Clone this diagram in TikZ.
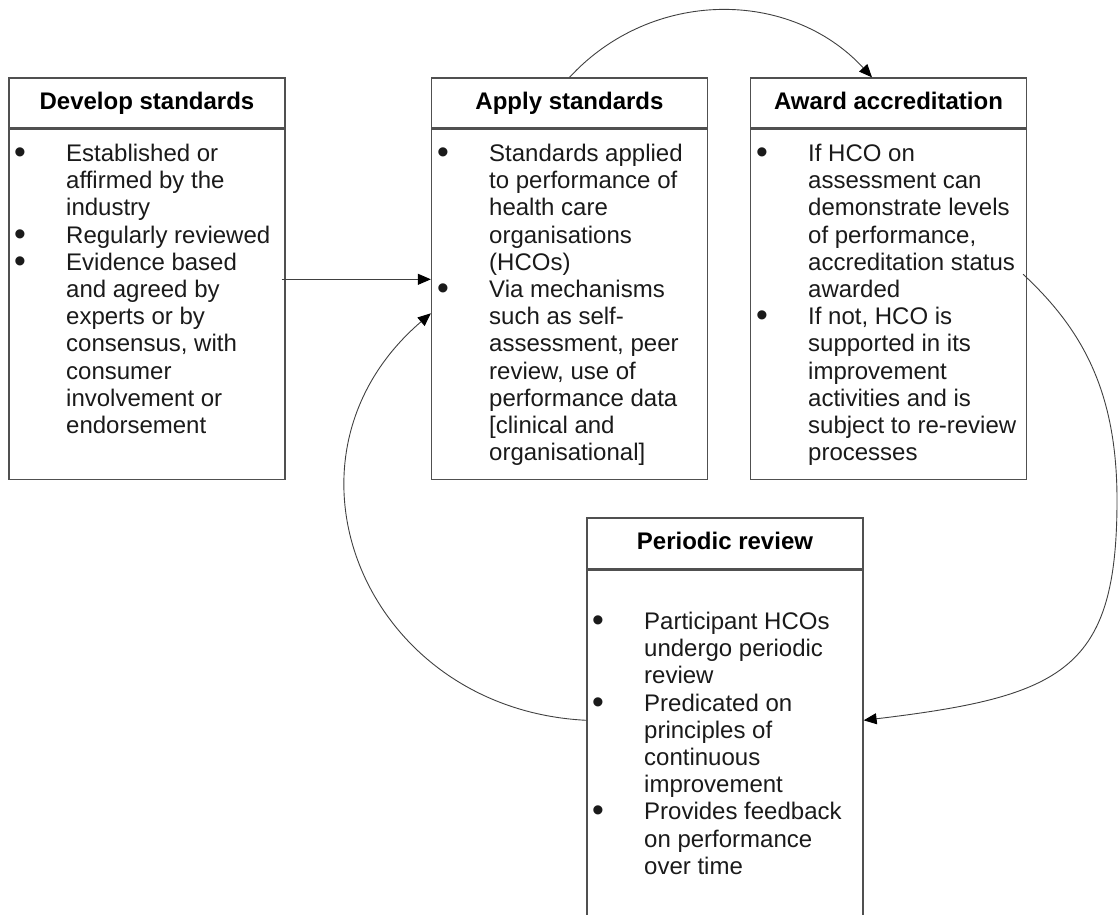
\documentclass[tikz,border=0pt]{standalone}
\usepackage{fontspec}
\usepackage{graphicx}
\setmainfont{Liberation Sans}
\usetikzlibrary{arrows.meta}
\definecolor{boxc}{HTML}{505050}
\definecolor{linec}{HTML}{404040}
\definecolor{txtc}{HTML}{1A1A1A}
\newcommand\bodyfont{\fontsize{24}{27.2}\selectfont}
\newcommand\ttlfont{\fontsize{24}{27.2}\selectfont\bfseries}
\newcommand\bu{\makebox[54pt][l]{\hspace{2pt}\raisebox{-2pt}{\scalebox{1.4}{•}}}}
\begin{document}
\begin{tikzpicture}[x=1pt,y=-1pt,
  box/.style={draw=boxc, line width=1.3pt, inner sep=0pt, minimum width=276pt},
  ttl/.style={box, minimum height=50pt, font=\ttlfont, text=black, text height=17.5pt, text depth=5pt},
  bdy/.style={box, minimum height=350pt, anchor=north},
  txt/.style={anchor=base west, inner sep=0pt, font=\bodyfont, text=txtc},
  conn/.style={draw=linec, line width=0.9pt, -{Triangle[length=13pt,width=11pt,color=black]}}]
\clip (0,0) rectangle (1118,914);
% boxes
\node[ttl] (dt) at (147,103) {Develop standards};
\node[bdy] (db) at (dt.south) {};
\node[ttl] (at) at (569.5,103) {Apply standards};
\node[bdy] (ab) at (at.south) {};
\node[ttl] (wt) at (888.5,103) {Award accreditation};
\node[bdy] (wb) at (wt.south) {};
\node[ttl, minimum height=51pt] (pt) at (725,543.5) {Periodic review};
\node[bdy, minimum height=380pt] (pb) at (pt.south) {};
% texts
\node[txt] (dx) at (12,161.5) {\begin{tabular}[t]{@{}l@{}l@{}}
\bu & Established or\\
 & affirmed by the\\
 & industry\\
\bu & Regularly reviewed\\
\bu & Evidence based\\
 & and agreed by\\
 & experts or by\\
 & consensus, with\\
 & consumer\\
 & involvement or\\
 & endorsement
\end{tabular}};
\node[txt] (ax) at (435,161.5) {\begin{tabular}[t]{@{}l@{}l@{}}
\bu & Standards applied\\
 & to performance of\\
 & health care\\
 & organisations\\
 & (HCOs)\\
\bu & Via mechanisms\\
 & such as self-\\
 & assessment, peer\\
 & review, use of\\
 & performance data\\
 & [clinical and\\
 & organisational]
\end{tabular}};
\node[txt] (wx) at (754,161.5) {\begin{tabular}[t]{@{}l@{}l@{}}
\bu & If HCO on\\
 & assessment can\\
 & demonstrate levels\\
 & of performance,\\
 & accreditation status\\
 & awarded\\
\bu & If not, HCO is\\
 & supported in its\\
 & improvement\\
 & activities and is\\
 & subject to re-review\\
 & processes
\end{tabular}};
\node[txt] (px) at (590,629.5) {\begin{tabular}[t]{@{}l@{}l@{}}
\bu & Participant HCOs\\
 & undergo periodic\\
 & review\\
\bu & Predicated on\\
 & principles of\\
 & continuous\\
 & improvement\\
\bu & Provides feedback\\
 & on performance\\
 & over time
\end{tabular}};
% connectors
\coordinate (rmid) at (1117,500);
\draw[conn] ([xshift=-4pt,yshift=25pt]db.east) -- ([yshift=25pt]ab.west);
\draw[conn] (at.north) .. controls +(82,-89) and +(-82,-89) .. ([xshift=-16.5pt]wt.north);
\draw[conn] ([xshift=-4pt,yshift=30pt]wb.east) .. controls +(58,54) and +(0,-110) .. (rmid)
  .. controls +(0,170) and +(200,-24) .. ([yshift=40pt]pb.east);
\draw[conn] ([yshift=40pt]pb.west) .. controls +(-222,-11) and +(-169,145) .. ([yshift=-9pt]ab.west);
\end{tikzpicture}
\end{document}
